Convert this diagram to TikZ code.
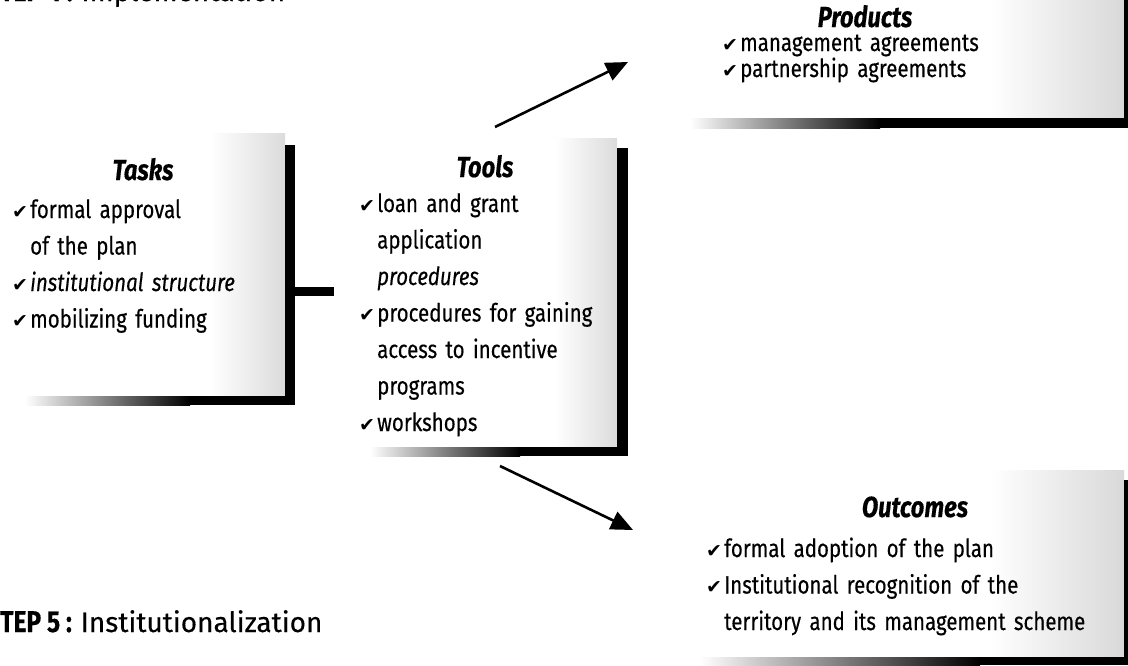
\documentclass[tikz,border=0pt]{standalone}
\usepackage{fontspec}
\setmainfont{Fira Sans}[FakeStretch=0.82,FakeBold=0.35]
\newfontfamily\plainfont{Fira Sans}[FakeBold=0.3]
\newfontfamily\ckfont{DejaVu Sans}
\usetikzlibrary{arrows.meta}
\newcommand{\ckm}{\makebox[18pt][l]{\ckfont\fontsize{19}{19}\selectfont ✔}}
\newcommand{\ckin}{\hspace*{18pt}}
\begin{document}
\begin{tikzpicture}[x=1pt,y=-1pt,
  body/.style={anchor=base west,inner sep=0pt,text width=420pt,align=left,
     font=\fontsize{25}{36.5}\selectfont},
  ttl/.style={anchor=base,inner sep=0pt,font=\fontsize{29}{30}\selectfont\bfseries\itshape},
  stepline/.style={anchor=base west,inner sep=0pt,font=\fontsize{30}{32}\selectfont},
  vbar/.style={fill=black},
  conn/.style={line width=9pt,black},
  arr/.style={line width=2.6pt,-{Triangle[length=22pt,width=19pt]}}]
\useasboundingbox (0,0) rectangle (1128,665);
% --- header (cut off)
\node[stepline] (step4) at (0,1) {\textbf{TEP 4 :} {\plainfont\fontsize{28}{30}\selectfont Implementation}};
% --- Products frame
\shade[left color=white,right color=gray!30] (990,0) rectangle (1124,118);
\shade[left color=white,right color=black] (690,118) rectangle (880,128);
\fill[vbar] (879,118) rectangle (1128,128);
\fill[vbar] (1124,0) rectangle (1128,128);
% --- Tasks frame
\shade[left color=white,right color=gray!28] (210,133) rectangle (285,396);
\shade[left color=white,right color=black] (25,396) rectangle (190,405);
\fill[vbar] (189,396) rectangle (295,405);
\fill[vbar] (285,145) rectangle (295,405);
% --- Tools frame
\shade[left color=white,right color=gray!28] (555,138) rectangle (617,447);
\shade[left color=white,right color=black] (370,447) rectangle (520,456);
\fill[vbar] (519,447) rectangle (628,456);
\fill[vbar] (617,148) rectangle (628,456);
% --- Outcomes frame
\shade[left color=white,right color=gray!30] (990,470) rectangle (1124,657);
\shade[left color=white,right color=black] (700,657) rectangle (980,665);
\fill[vbar] (979,657) rectangle (1128,665);
\fill[vbar] (1124,480) rectangle (1128,665);
% --- texts
\node[ttl] (tasksT) at (143,180) {Tasks};
\node[body] (tasks) at (12,218) {\ckm formal approval\\ \ckin of the plan\\ \ckm\textit{institutional structure}\\ \ckm mobilizing funding};
\node[ttl] (toolsT) at (485,177) {Tools};
\node[body] (tools) at (359,212) {\ckm loan and grant\\ \ckin application\\ \ckin\textit{procedures}\\ \ckm procedures for gaining\\ \ckin access to incentive\\ \ckin programs\\ \ckm workshops};
\node[ttl] (prodT) at (865,27) {Products};
\node[body,font=\fontsize{25}{26}\selectfont] (prod) at (722,51) {\ckm management agreements\\ \ckm partnership agreements};
\node[ttl] (outT) at (915,517) {Outcomes};
\node[body] (outc) at (706,557) {\ckm formal adoption of the plan\\ \ckm Institutional recognition of the\\ \ckin territory and its management scheme};
\node[stepline] (step5) at (0,632) {\textbf{TEP 5 :} {\plainfont\fontsize{28}{30}\selectfont Institutionalization}};
% --- connectors
\coordinate (tasksout) at (290,291);
\coordinate (toolsin) at (334,291);
\draw[conn] (tasksout) -- (toolsin);
\coordinate (toolsup) at (495,127);
\coordinate (prodin) at (628,62);
\draw[arr] (toolsup) -- (prodin);
\coordinate (toolsdn) at (500,466);
\coordinate (outin) at (633,530);
\draw[arr] (toolsdn) -- (outin);
\end{tikzpicture}
\end{document}
